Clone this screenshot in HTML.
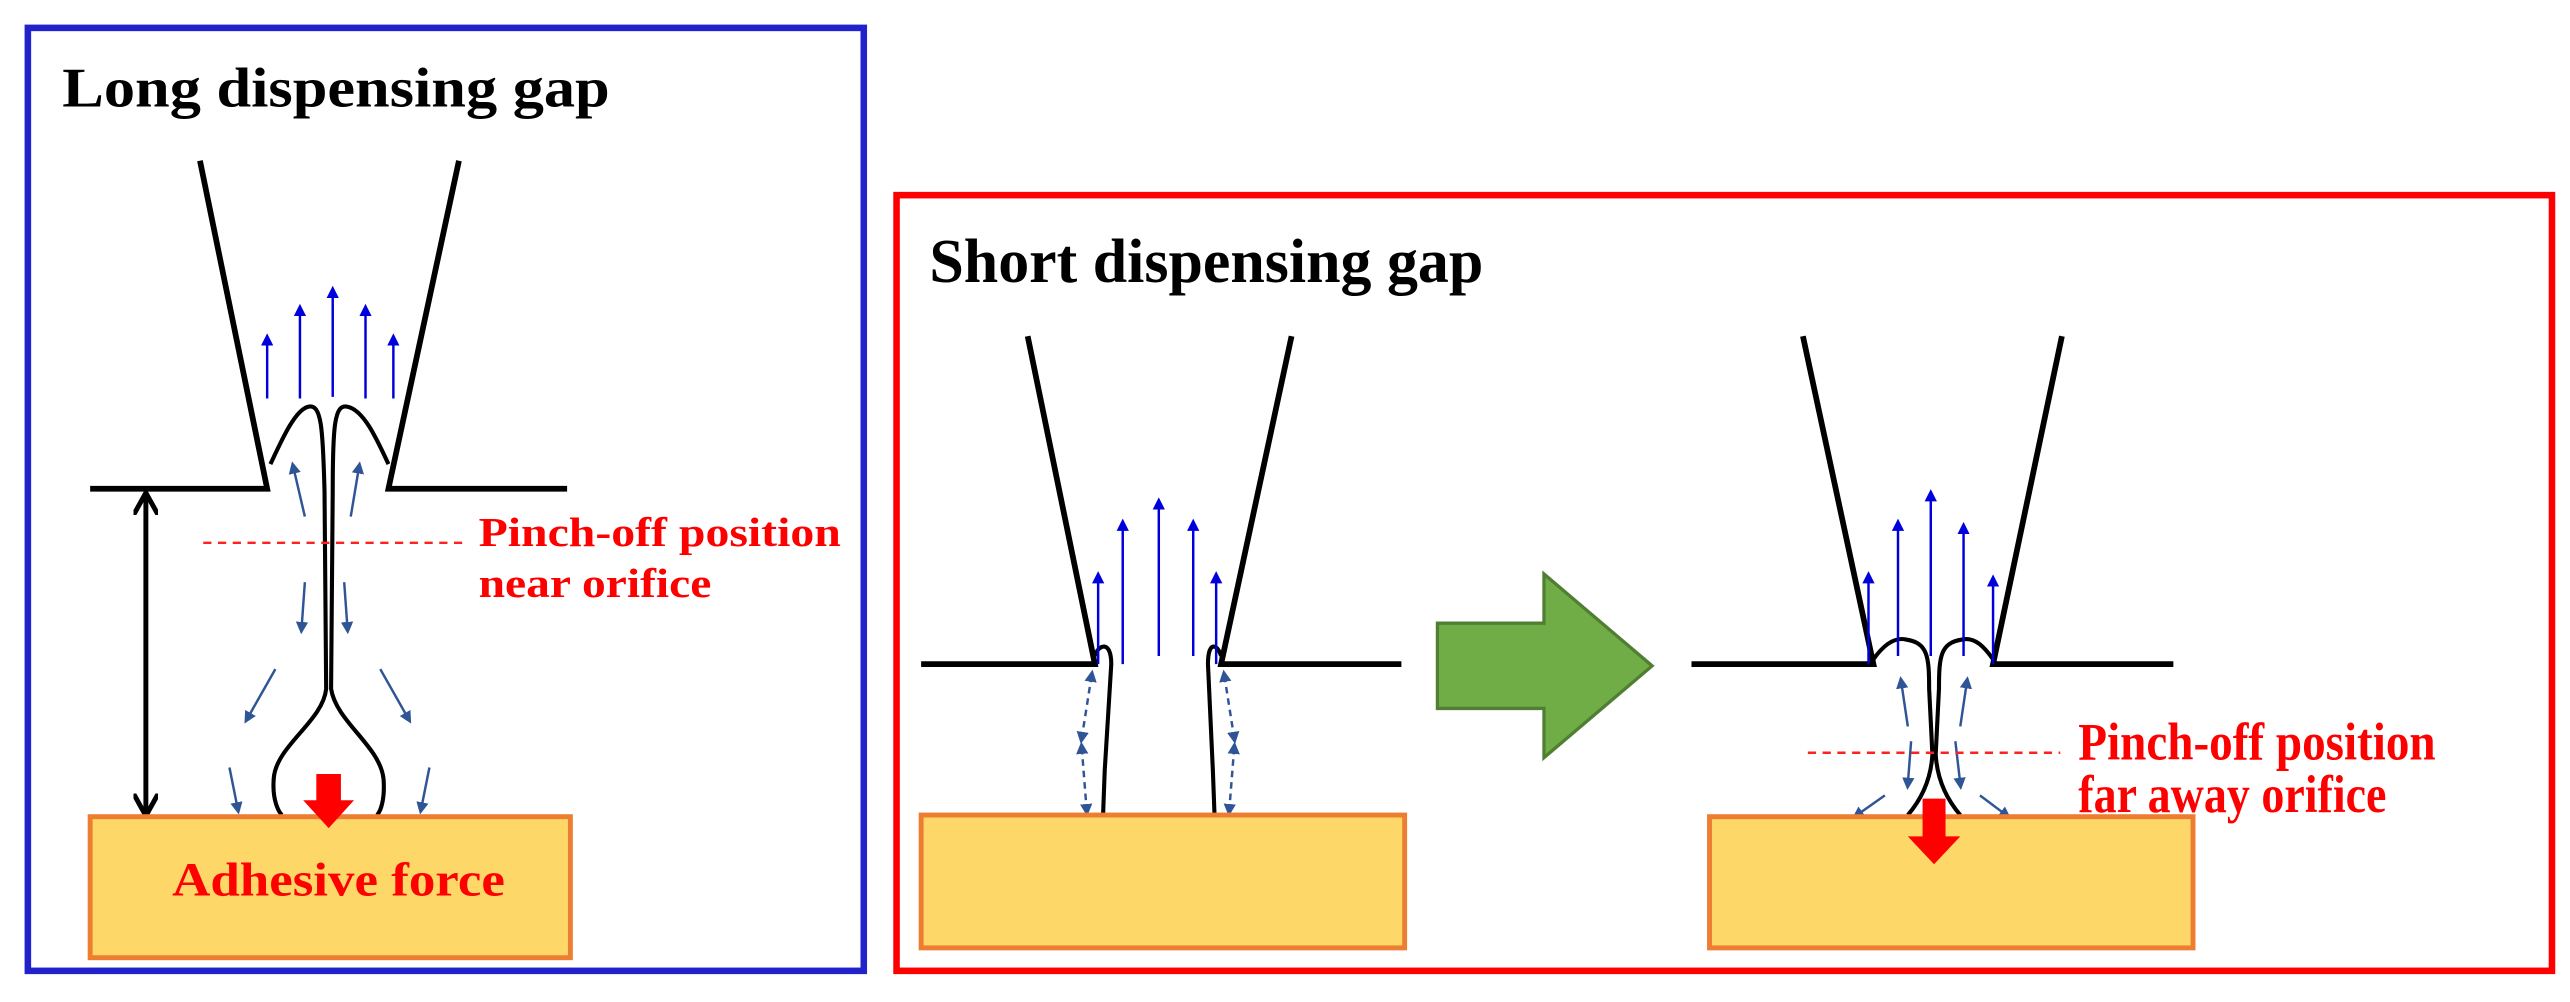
<!DOCTYPE html>
<html><head><meta charset="utf-8"><style>html,body{margin:0;padding:0;background:#fff}svg{display:block}</style></head>
<body>
<svg width="2570" height="1002" viewBox="0 0 1568 611" preserveAspectRatio="none" xmlns="http://www.w3.org/2000/svg">
<defs>
<marker id="bu" viewBox="0 0 10 10" refX="5" refY="5" markerWidth="5" markerHeight="6" orient="auto"><path d="M0,0L10,5L0,10z" fill="#0000dd"/></marker>
<marker id="sb" viewBox="0 0 10 10" refX="5" refY="5" markerWidth="5" markerHeight="6" orient="auto-start-reverse"><path d="M0,0L10,5L0,10z" fill="#2f5597"/></marker>
<marker id="bk" viewBox="0 0 10 10" refX="8" refY="5" markerWidth="5" markerHeight="5" orient="auto-start-reverse"><path d="M0,0L9,5L0,10" fill="none" stroke="#000" stroke-width="2"/></marker>
</defs>
<g font-family="Liberation Serif, serif" font-weight="bold">
<!-- Left panel -->
<rect x="17" y="17" width="510" height="575" fill="none" stroke="#2222cc" stroke-width="4"/>
<text x="38" y="65" font-size="34" fill="#000" textLength="334" lengthAdjust="spacingAndGlyphs">Long dispensing gap</text>
<g stroke="#000" stroke-width="3.5" fill="none">
<path d="M122,98L163,298L55,298"/><path d="M280,98L237,298L346,298"/>
</g>
<g stroke="#000" stroke-width="2.5" fill="none">
<path d="M165,283C172,268 180,250 188,248C196,246 197,260 198,300L199,420C197,440 168,455 167,475C166,488 170,495 172,497"/>
<path d="M237,283C230,268 222,250 212,248C204,246 203,260 203,300L202,420C205,440 232,455 234,475C235,488 232,495 230,497"/>
</g>
<g stroke="#0000dd" stroke-width="1.5" marker-end="url(#bu)">
<line x1="163" y1="243" x2="163" y2="207"/><line x1="183" y1="243" x2="183" y2="189"/><line x1="203" y1="242" x2="203" y2="178"/><line x1="223" y1="243" x2="223" y2="189"/><line x1="240" y1="243" x2="240" y2="207"/>
</g>
<g stroke="#2f5597" stroke-width="1.5" marker-end="url(#sb)">
<line x1="186" y1="315" x2="179" y2="285"/><line x1="214" y1="315" x2="219" y2="285"/><line x1="186" y1="355" x2="184" y2="383"/><line x1="210" y1="355" x2="212" y2="383"/><line x1="168" y1="408" x2="151" y2="438"/><line x1="232" y1="408" x2="249" y2="438"/><line x1="140" y1="468" x2="145" y2="493"/><line x1="262" y1="468" x2="257" y2="493"/>
</g>
<line x1="124" y1="331" x2="283" y2="331" stroke="#ff2020" stroke-width="1.5" stroke-dasharray="5,4"/>
<text x="292" y="333" font-size="25" fill="#ff0000" textLength="221" lengthAdjust="spacingAndGlyphs">Pinch-off position</text>
<text x="292" y="364" font-size="25" fill="#ff0000" textLength="142" lengthAdjust="spacingAndGlyphs">near orifice</text>
<line x1="89" y1="302" x2="89" y2="496" stroke="#000" stroke-width="3" marker-start="url(#bk)" marker-end="url(#bk)"/>
<rect x="55" y="498" width="293" height="86" fill="#fdd868" stroke="#ed7d31" stroke-width="3"/>
<path d="M193,472H208V488H216L200.5,505L185,488H193Z" fill="#ff0000"/>
<text x="105" y="546" font-size="29" fill="#ff0000" textLength="203" lengthAdjust="spacingAndGlyphs">Adhesive force</text>
<!-- Right panel -->
<rect x="547" y="119" width="1010" height="473" fill="none" stroke="#ff0000" stroke-width="4"/>
<text x="567" y="172" font-size="38" fill="#000" textLength="338" lengthAdjust="spacingAndGlyphs">Short dispensing gap</text>
<g stroke="#000" stroke-width="3.5" fill="none">
<path d="M627,205L668,405L562,405"/><path d="M788,205L745,405L855,405"/>
<path d="M1100,205L1143,405L1032,405"/><path d="M1258,205L1216,405L1326,405"/>
</g>
<g stroke="#000" stroke-width="2.5" fill="none">
<path d="M668,400C670,393 678,390 678,405L674,470L673,497"/>
<path d="M745,400C743,393 737,390 737,405L740,470L741,497"/>
<path d="M1143,402C1148,395 1155,388 1163,390C1176,392 1177,400 1177,420L1179,460C1178,478 1170,490 1164,497"/>
<path d="M1216,402C1211,395 1205,388 1197,390C1184,392 1183,400 1183,420L1181,460C1182,478 1190,490 1196,497"/>
</g>
<g stroke="#0000dd" stroke-width="1.5" marker-end="url(#bu)">
<line x1="670" y1="405" x2="670" y2="352"/><line x1="685" y1="405" x2="685" y2="320"/><line x1="707" y1="400" x2="707" y2="307"/><line x1="728" y1="400" x2="728" y2="320"/><line x1="742" y1="405" x2="742" y2="352"/>
<line x1="1140" y1="405" x2="1140" y2="352"/><line x1="1158" y1="400" x2="1158" y2="320"/><line x1="1178" y1="400" x2="1178" y2="302"/><line x1="1198" y1="400" x2="1198" y2="322"/><line x1="1216" y1="405" x2="1216" y2="354"/>
</g>
<g stroke="#2f5597" stroke-width="1.5" stroke-dasharray="4,3" marker-start="url(#sb)" marker-end="url(#sb)">
<line x1="666" y1="412" x2="660" y2="450"/><line x1="660" y1="456" x2="663" y2="494"/>
<line x1="747" y1="412" x2="753" y2="450"/><line x1="753" y1="456" x2="750" y2="494"/>
</g>
<g stroke="#2f5597" stroke-width="1.5" marker-end="url(#sb)">
<line x1="1164" y1="443" x2="1160" y2="416"/><line x1="1196" y1="443" x2="1200" y2="416"/><line x1="1166" y1="452" x2="1164" y2="478"/><line x1="1193" y1="452" x2="1196" y2="478"/><line x1="1150" y1="485" x2="1133" y2="497"/><line x1="1208" y1="485" x2="1224" y2="497"/>
</g>
<line x1="1103" y1="459" x2="1257" y2="459" stroke="#ff2020" stroke-width="1.5" stroke-dasharray="5,4"/>
<text x="1268" y="463" font-size="32" fill="#ff0000" textLength="218" lengthAdjust="spacingAndGlyphs">Pinch-off position</text>
<text x="1268" y="495" font-size="32" fill="#ff0000" textLength="188" lengthAdjust="spacingAndGlyphs">far away orifice</text>
<rect x="562" y="497" width="295" height="81" fill="#fdd868" stroke="#ed7d31" stroke-width="3"/>
<rect x="1043" y="498" width="295" height="80" fill="#fdd868" stroke="#ed7d31" stroke-width="3"/>
<path d="M1173,487H1187V510H1196L1180,527L1164,510H1173Z" fill="#ff0000"/>
<path d="M877,380H942V350L1008,406L942,462V432H877Z" fill="#70ad47" stroke="#507e32" stroke-width="2"/>
</g>
</svg>
</body></html>
